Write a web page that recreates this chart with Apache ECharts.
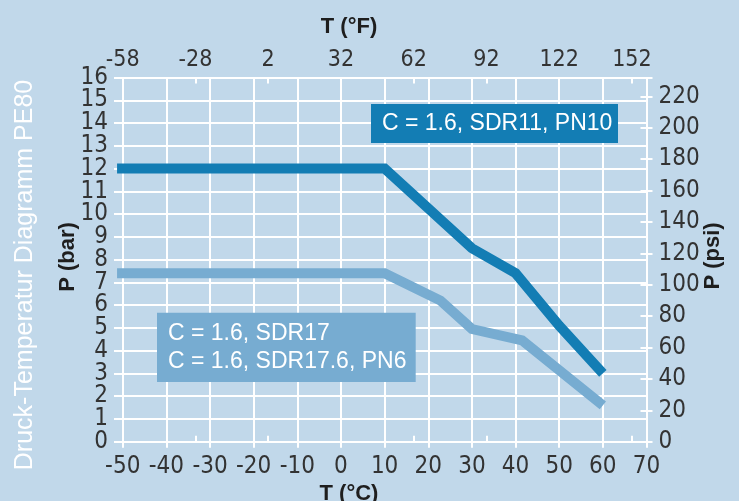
<!DOCTYPE html>
<html><head><meta charset="utf-8">
<script src="https://cdn.jsdelivr.net/npm/echarts@6/dist/echarts.min.js"></script>
<style>html,body{margin:0;padding:0;background:#c1d8ea;}#c{width:739px;height:501px;}</style>
</head><body><div id="c"></div>
<script>
// ---- data ----
const tempSdr11 = [-51.3, 10, 30, 40, 50, 60];
const pSdr11    = [12, 12, 8.5, 7.4, 5.1, 3.0];
const tempSdr17 = [-51.3, 10, 22.8, 30, 41.5, 60];
const pSdr17    = [7.4, 7.4, 6.2, 4.95, 4.45, 1.6];
const labelSdr11 = 'C = 1.6, SDR11, PN10';
const labelSdr17 = ['C = 1.6, SDR17', 'C = 1.6, SDR17.6, PN6'];
const barRange = [0, 16];
const barStep = 1;
const psiPerBar = 14.5;
const psiStep = 20;
const celsiusRange = [-52, 70];
const celsiusTickRange = [-50, 70];
const celsiusStep = 10;
const fahrenheitRange = [-58, 158];
const fahrenheitStep = 30;
const titleText = 'Druck-Temperatur Diagramm PE80';
const nameTopX = 'T (°F)', nameBottomX = 'T (°C)', nameLeftY = 'P (bar)', nameRightY = 'P (psi)';

// ---- styles ----
const BG = '#c1d8ea', DARK = '#137db4', LIGHT = '#77acd1', TXT = '#333333', NAME = '#1e1e1e';
const NARROW = "'Liberation Sans Narrow','DejaVu Sans Condensed',sans-serif";
const SANS = "'Liberation Sans',Arial,sans-serif";
const W = 739, H = 501;
const G = {left: 114, right: 92.5, top: 77.5, bottom: 59.3};
const G2 = {left: 122.7, right: 92.5, top: 77.5, bottom: 59.3};
const unitPx = (H - G.top - G.bottom) / (barRange[1] - barRange[0]);
// grid used only to place the odd bar labels (1,3,...,15) on the same scale
const G3 = {left: G.left, right: G.right, top: G.top + unitPx, bottom: G.bottom + unitPx};

const pair = (xs, ys) => xs.map((x, i) => [x, ys[i]]);
const chart = echarts.init(document.getElementById('c'), null, {renderer: 'canvas'});
const tickW = {show: true, length: 6, lineStyle: {color: '#ffffff', width: 2}};
const leftLabel = {margin: 6, color: TXT, fontSize: 24, fontFamily: NARROW, showMinLabel: true, showMaxLabel: true};

const xSplitColors = [];
for (let v = celsiusRange[0]; v <= celsiusRange[1] + 1e-9; ) {
  xSplitColors.push(v % celsiusStep === 0 ? '#ffffff' : 'rgba(0,0,0,0)');
  v = (v % celsiusStep === 0) ? v + celsiusStep : Math.ceil(v / celsiusStep) * celsiusStep;
}

chart.setOption({
  backgroundColor: BG,
  animation: false,
  grid: [G, G2, G3].map(g => Object.assign({containLabel: false}, g)),
  xAxis: [
    { // main data axis (°C)
      type: 'value', gridIndex: 0, position: 'bottom',
      min: celsiusRange[0], max: celsiusRange[1], splitNumber: 12, minInterval: celsiusStep, maxInterval: celsiusStep,
      axisLine: {show: false}, axisTick: {show: false},
      axisLabel: {show: true, margin: 13, color: TXT, fontSize: 24, fontFamily: NARROW, showMaxLabel: true,
        formatter: v => (Math.abs(v % celsiusStep) < 1e-9 ? String(v) : '')},
      splitLine: {show: true, lineStyle: {color: xSplitColors, width: 2}}
    },
    { // °F top axis
      type: 'value', gridIndex: 1, position: 'top',
      min: fahrenheitRange[0], max: fahrenheitRange[1], interval: fahrenheitStep,
      axisLine: {show: false}, axisTick: tickW,
      axisLabel: {margin: 6, color: TXT, fontSize: 23, fontFamily: NARROW, showMinLabel: true,
        formatter: v => (((v - fahrenheitRange[0]) % fahrenheitStep === 0) ? String(v) : '')},
      splitLine: {show: false}
    },
    { // °F inside ticks
      type: 'value', gridIndex: 1, position: 'top',
      min: fahrenheitRange[0], max: fahrenheitRange[1], interval: fahrenheitStep,
      axisLine: {show: false}, axisTick: Object.assign({inside: true}, tickW),
      axisLabel: {show: false}, splitLine: {show: false}
    },
    { // °C bottom ticks
      type: 'value', gridIndex: 1, position: 'bottom',
      min: celsiusTickRange[0], max: celsiusTickRange[1], interval: celsiusStep,
      axisLine: {show: false}, axisTick: Object.assign({length: 7}, tickW),
      axisLabel: {show: false}, splitLine: {show: false}
    },
    {type: 'value', gridIndex: 2, show: false, min: 0, max: 1}
  ],
  yAxis: [
    { // bar grid lines
      type: 'value', gridIndex: 0, position: 'left',
      min: barRange[0], max: barRange[1], interval: barStep,
      axisLine: {show: false}, axisTick: {show: false}, axisLabel: {show: false},
      splitLine: {show: true, lineStyle: {color: '#ffffff', width: 2}}
    },
    {
      type: 'value', gridIndex: 0, position: 'right',
      min: barRange[0] * psiPerBar, max: barRange[1] * psiPerBar, interval: psiStep,
      axisLine: {show: false}, axisTick: tickW,
      axisLabel: {margin: 12, color: TXT, fontSize: 24, fontFamily: NARROW, showMinLabel: true,
        formatter: v => (v % psiStep === 0 ? String(v) : '')},
      splitLine: {show: false}
    },
    {
      type: 'value', gridIndex: 0, position: 'right',
      min: barRange[0] * psiPerBar, max: barRange[1] * psiPerBar, interval: psiStep,
      axisLine: {show: false}, axisTick: Object.assign({inside: true}, tickW),
      axisLabel: {show: false}, splitLine: {show: false}
    },
    {type: 'value', gridIndex: 1, show: false, min: 0, max: 1},
    { // even bar labels
      type: 'value', gridIndex: 0, position: 'left',
      min: barRange[0], max: barRange[1], interval: 2 * barStep,
      axisLine: {show: false}, axisTick: {show: false}, axisLabel: leftLabel, splitLine: {show: false}
    },
    { // odd bar labels
      type: 'value', gridIndex: 2, position: 'left',
      min: barRange[0] + barStep, max: barRange[1] - barStep, interval: 2 * barStep,
      axisLine: {show: false}, axisTick: {show: false}, axisLabel: leftLabel, splitLine: {show: false}
    }
  ],
  series: [
    {type: 'line', xAxisIndex: 0, yAxisIndex: 0, data: pair(tempSdr17, pSdr17), symbol: 'none',
      lineStyle: {color: LIGHT, width: 10, join: 'miter', cap: 'butt'}, z: 3},
    {type: 'line', xAxisIndex: 0, yAxisIndex: 0, data: pair(tempSdr11, pSdr11), symbol: 'none',
      lineStyle: {color: DARK, width: 10, join: 'miter', cap: 'butt'}, z: 4}
  ],
  graphic: [
    {type: 'text', x: 25, y: 275, rotation: Math.PI / 2, z: 10,
      style: {text: titleText, fill: '#ffffff', fontSize: 25, fontFamily: SANS, align: 'center', verticalAlign: 'middle'}},
    {type: 'text', x: 349, y: 27, z: 10,
      style: {text: nameTopX, fill: NAME, fontSize: 22, fontWeight: 'bold', fontFamily: SANS, align: 'center', verticalAlign: 'middle'}},
    {type: 'text', x: 349, y: 494, z: 10,
      style: {text: nameBottomX, fill: NAME, fontSize: 22, fontWeight: 'bold', fontFamily: SANS, align: 'center', verticalAlign: 'middle'}},
    {type: 'text', x: 68, y: 257, rotation: Math.PI / 2, z: 10,
      style: {text: nameLeftY, fill: NAME, fontSize: 22, fontWeight: 'bold', fontFamily: SANS, align: 'center', verticalAlign: 'middle'}},
    {type: 'text', x: 713, y: 256, rotation: Math.PI / 2, z: 10,
      style: {text: nameRightY, fill: NAME, fontSize: 22, fontWeight: 'bold', fontFamily: SANS, align: 'center', verticalAlign: 'middle'}},
    {type: 'rect', shape: {x: 371, y: 104, width: 247, height: 39}, style: {fill: DARK}, z: 20},
    {type: 'text', x: 382, y: 123.5, z: 21,
      style: {text: labelSdr11, fill: '#ffffff', fontSize: 23, fontFamily: SANS, align: 'left', verticalAlign: 'middle'}},
    {type: 'rect', shape: {x: 157, y: 312.7, width: 258.7, height: 69.3}, style: {fill: LIGHT}, z: 20},
    {type: 'text', x: 168, y: 334, z: 21,
      style: {text: labelSdr17[0], fill: '#ffffff', fontSize: 23, fontFamily: SANS, align: 'left', verticalAlign: 'middle'}},
    {type: 'text', x: 168, y: 361.5, z: 21,
      style: {text: labelSdr17[1], fill: '#ffffff', fontSize: 23, fontFamily: SANS, align: 'left', verticalAlign: 'middle'}}
  ]
});
</script></body></html>
